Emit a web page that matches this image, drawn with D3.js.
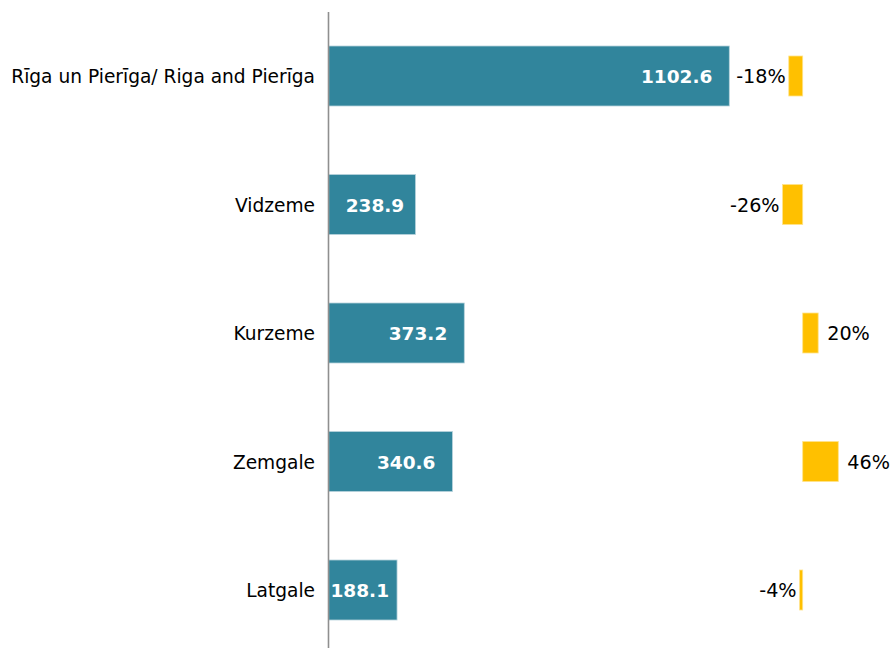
<!DOCTYPE html>
<html>
<head>
<meta charset="utf-8">
<script src="https://cdn.jsdelivr.net/npm/d3@7/dist/d3.min.js"></script>
<style>
  html, body { margin: 0; padding: 0; background: #fff; }
  svg { display: block; font-family: "DejaVu Sans", Verdana, sans-serif; }
</style>
</head>
<body>
<svg id="chart" width="892" height="648"></svg>
<script>
// Regions of Latvia
const regions = [
  "Rīga un Pierīga/ Riga and Pierīga",
  "Vidzeme",
  "Kurzeme",
  "Zemgale",
  "Latgale"
];
// Main values per region
const values = [1102.6, 238.9, 373.2, 340.6, 188.1];
// Change, percent
const changes = [-18, -26, 20, 46, -4];

const svg = d3.select("#chart");

const y = d3.scaleBand()
  .domain(regions)
  .range([11.75, 654.25])
  .paddingInner(0)
  .paddingOuter(0);

// Main bars
const x = d3.scaleLinear().domain([0, 1102.6]).range([328.7, 729.3]);
// Change bars, zero near the right edge
const xc = d3.scaleLinear().domain([0, 46]).range([802.7, 838.3]);

const barH = 60;
const chgH = 40;
const cy = d => y(d) + y.bandwidth() / 2;

// Main bars
svg.append("g").selectAll("rect")
  .data(regions)
  .join("rect")
  .attr("x", x(0))
  .attr("y", d => cy(d) - barH / 2)
  .attr("width", (d, i) => x(values[i]) - x(0))
  .attr("height", barH)
  .attr("fill", "#31859c")
  .attr("stroke", "#b7d3dc")
  .attr("stroke-width", 0.8);

// Change bars
svg.append("g").selectAll("rect")
  .data(regions)
  .join("rect")
  .attr("x", (d, i) => Math.min(xc(0), xc(changes[i])))
  .attr("y", d => cy(d) - chgH / 2)
  .attr("width", (d, i) => Math.abs(xc(changes[i]) - xc(0)))
  .attr("height", chgH)
  .attr("fill", "#ffc000")
  .attr("stroke", "#ffe38a")
  .attr("stroke-width", 0.8);

// Category axis
const yAxis = d3.axisLeft(y).tickSize(0).tickPadding(13.5);
const ag = svg.append("g")
  .attr("transform", `translate(${x(0) - 0.2},0)`)
  .call(yAxis);
ag.select(".domain").remove();
ag.selectAll("text")
  .attr("font-size", 18.6)
  .attr("font-family", "DejaVu Sans, Verdana, sans-serif")
  .attr("fill", "#000")
  .attr("dy", "0.38em");

svg.append("line")
  .attr("x1", x(0) - 0.2).attr("x2", x(0) - 0.2)
  .attr("y1", 12).attr("y2", 648)
  .attr("stroke", "#8f8f8f")
  .attr("stroke-width", 1.6);

// Value labels inside bar ends; short bars keep the label clear of the axis
svg.append("g").selectAll("text")
  .data(regions)
  .join("text")
  .attr("font-size", 18.5)
  .attr("font-weight", "bold")
  .attr("fill", "#fff")
  .attr("dy", "0.38em")
  .attr("y", d => cy(d))
  .attr("text-anchor", "end")
  .text((d, i) => values[i].toFixed(1))
  .each(function (d, i) {
    const w = this.getComputedTextLength();
    const xe = x(values[i]);
    const end = Math.max(xe - 17, Math.min(x(0) + 17 + w, xe - 8));
    d3.select(this).attr("x", end);
  });

// Change labels outside bar ends
svg.append("g").selectAll("text")
  .data(regions)
  .join("text")
  .attr("font-size", 19.2)
  .attr("fill", "#000")
  .attr("dy", "0.38em")
  .attr("y", d => cy(d))
  .attr("x", (d, i) => changes[i] < 0 ? xc(changes[i]) - 3 : xc(changes[i]) + 9)
  .attr("text-anchor", (d, i) => changes[i] < 0 ? "end" : "start")
  .text((d, i) => changes[i] + "%");
</script>
</body>
</html>
